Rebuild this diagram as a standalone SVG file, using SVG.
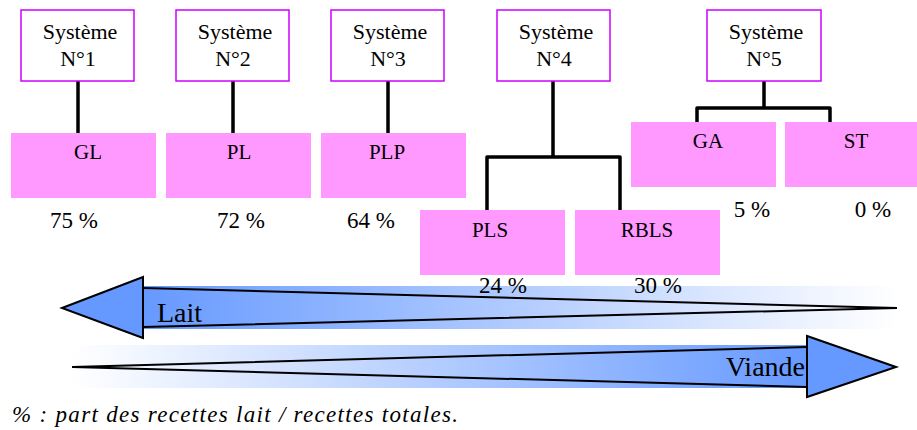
<svg xmlns="http://www.w3.org/2000/svg" width="917" height="430" viewBox="0 0 917 430">
<style>
text{font-family:"Liberation Serif","Tinos","Times New Roman","Nimbus Roman","Noto Serif","DejaVu Serif",serif;fill:#000}
.sys{fill:#fff;stroke:#cc00ff;stroke-width:1.5}
.pk{fill:#ff99ff}
.t{font-size:22px;text-anchor:middle}
.lb{font-size:21px;text-anchor:middle}
.pc{font-size:23px;text-anchor:middle}
.big{font-size:28px}
.ln{fill:none;stroke:#000;stroke-width:3.5;stroke-linejoin:round}
.ar{stroke:#000;stroke-width:2;stroke-linejoin:miter}
</style>
<defs>
<linearGradient id="gL" x1="0" y1="0" x2="1" y2="0"><stop offset="0" stop-color="#6699ff"/><stop offset="1" stop-color="#ffffff"/></linearGradient>
<linearGradient id="gR" x1="0" y1="0" x2="1" y2="0"><stop offset="0" stop-color="#ffffff"/><stop offset="1" stop-color="#6699ff"/></linearGradient>
</defs>
<g id="connectors">
<line class="ln" x1="78" y1="77" x2="78" y2="133"/>
<line class="ln" x1="233" y1="77" x2="233" y2="133"/>
<line class="ln" x1="388" y1="77" x2="388" y2="133"/>
<path class="ln" d="M553 77 V157 M487 211 V157 H620 V211"/>
<path class="ln" d="M764 77 V108 M697 123 V108 H830 V123"/>
</g>
<g id="sys1"><rect class="sys" x="21" y="10" width="113" height="71"/><text class="t" x="80" y="39">Système</text><text class="t" x="78" y="66">N°1</text></g>
<g id="sys2"><rect class="sys" x="176" y="10" width="113" height="71"/><text class="t" x="235" y="39">Système</text><text class="t" x="233" y="66">N°2</text></g>
<g id="sys3"><rect class="sys" x="331" y="10" width="113" height="71"/><text class="t" x="390" y="39">Système</text><text class="t" x="388" y="66">N°3</text></g>
<g id="sys4"><rect class="sys" x="497" y="10" width="113" height="71"/><text class="t" x="556" y="39">Système</text><text class="t" x="554" y="66">N°4</text></g>
<g id="sys5"><rect class="sys" x="707" y="10" width="114" height="71"/><text class="t" x="766" y="39">Système</text><text class="t" x="764" y="66">N°5</text></g>
<g id="GL"><rect class="pk" x="11" y="133" width="145" height="65"/><text class="lb" x="88" y="159">GL</text><text class="pc" x="74" y="228">75 %</text></g>
<g id="PL"><rect class="pk" x="166" y="133" width="145" height="65"/><text class="lb" x="239" y="159">PL</text><text class="pc" x="241" y="228">72 %</text></g>
<g id="PLP"><rect class="pk" x="321" y="133" width="145" height="65"/><text class="lb" x="387" y="159">PLP</text><text class="pc" x="371" y="228">64 %</text></g>
<g id="GA"><rect class="pk" x="631" y="122" width="145" height="65"/><text class="lb" x="708" y="148">GA</text><text class="pc" x="752" y="217">5 %</text></g>
<g id="ST"><rect class="pk" x="785" y="122" width="132" height="65"/><text class="lb" x="856" y="148">ST</text><text class="pc" x="873" y="217">0 %</text></g>
<g id="lait">
<rect x="143" y="286" width="754" height="43" fill="url(#gL)"/>
<polyline points="143,288 897,308 143,327" fill="none" stroke="#000" stroke-width="2"/>
<polygon class="ar" points="62,308 143,277 143,338" fill="#6699ff"/>
<text class="big" x="157" y="322">Lait</text>
</g>
<g id="PLS"><rect class="pk" x="420" y="210" width="145" height="65"/><text class="lb" x="490" y="237">PLS</text><text class="pc" x="503" y="293">24 %</text></g>
<g id="RBLS"><rect class="pk" x="575" y="210" width="145" height="65"/><text class="lb" x="647" y="237">RBLS</text><text class="pc" x="658" y="293">30 %</text></g>
<g id="viande">
<rect x="72" y="345" width="735" height="43" fill="url(#gR)"/>
<polyline points="807,347 72,367 807,387" fill="none" stroke="#000" stroke-width="2"/>
<polygon class="ar" points="896,367 807,336 807,397" fill="#6699ff"/>
<text class="big" x="805" y="376" text-anchor="end">Viande</text>
</g>
<text x="12" y="422" font-style="italic" font-size="23" textLength="446" lengthAdjust="spacing">% : part des recettes lait / recettes totales.</text>
</svg>
